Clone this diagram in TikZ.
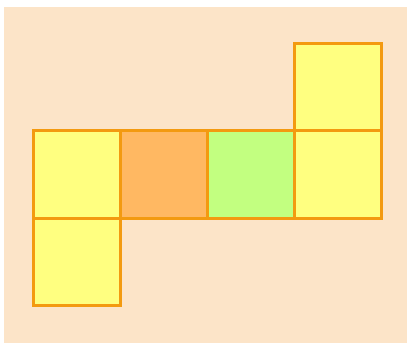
\documentclass[tikz,border=0pt]{standalone}
\usepackage{tikz}
\usepackage{xcolor}
\usetikzlibrary{positioning}

\definecolor{peach}{HTML}{FCE4C8}
\definecolor{edgeorange}{HTML}{F39A10}
\definecolor{faceyellow}{HTML}{FFFF80}
\definecolor{faceorange}{HTML}{FFB862}
\definecolor{facegreen}{HTML}{C2FF80}

\tikzset{
    face/.style={draw=edgeorange, line width=0.075cm, minimum size=2.175cm, inner sep=0pt, outer sep=0pt},
    yface/.style={face, fill=faceyellow},
    oface/.style={face, fill=faceorange},
    gface/.style={face, fill=facegreen}
}

\begin{document}
\begin{tikzpicture}[x=0.025cm, y=-0.025cm]
    \useasboundingbox (0, 0) rectangle (407, 343);
    \fill[white] (0, 0) rectangle (407, 343);
    \fill[peach] (4, 7) rectangle (407, 343);

    \node[yface] (left) at (77, 174.5) {};
    \node[yface, below=0pt of left] (bottom) {};
    \node[oface, right=0pt of left] (front) {};
    \node[gface, right=0pt of front] (right) {};
    \node[yface, right=0pt of right] (back) {};
    \node[yface, above=0pt of back] (top) {};
\end{tikzpicture}
\end{document}
